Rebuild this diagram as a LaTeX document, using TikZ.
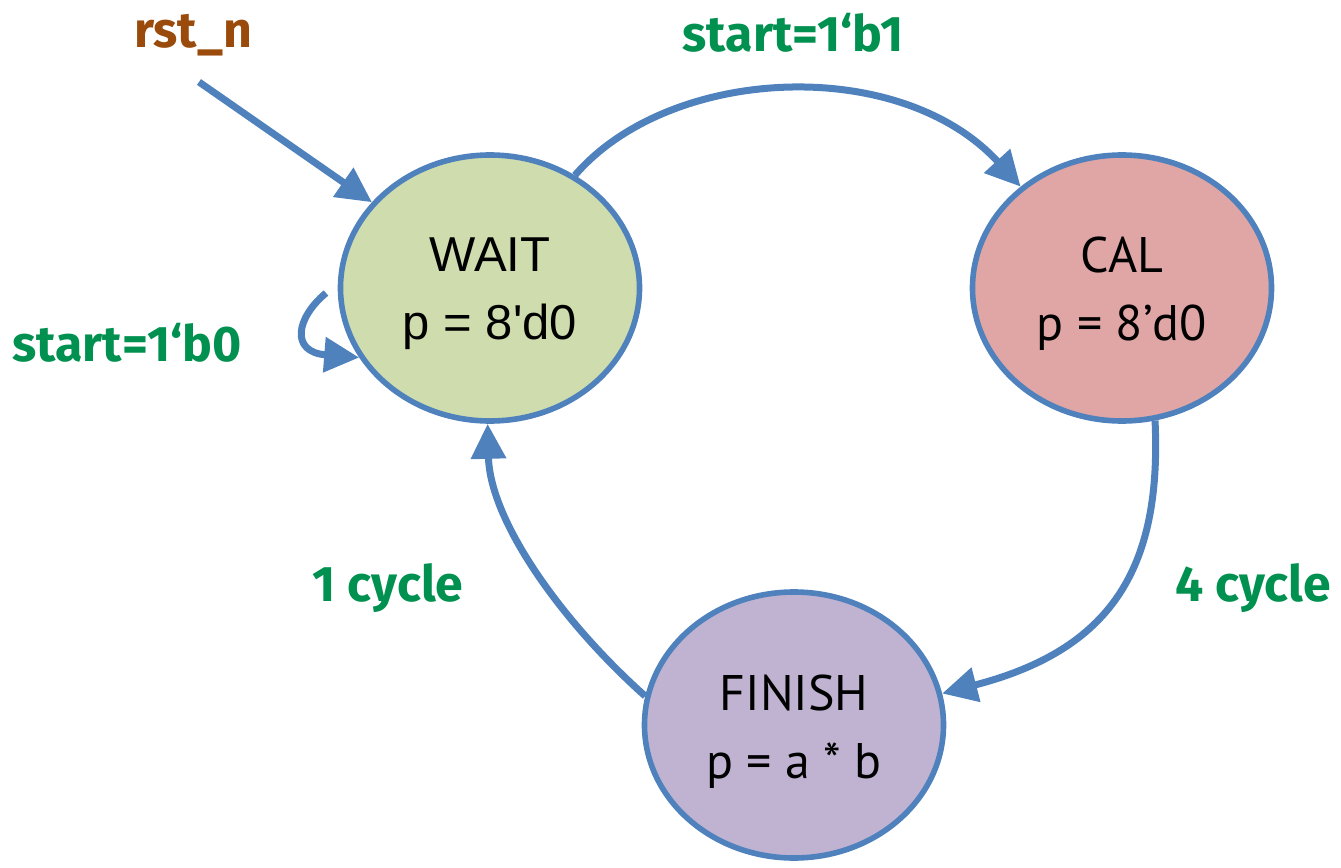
\documentclass[tikz,border=0pt]{standalone}
\usepackage{fontspec}
\setmainfont{Liberation Sans}
\newfontfamily\waitfont{Liberation Sans}[Ligatures=TeXOff]
\newfontfamily\statefont{PT Sans}
\newfontfamily\condfont{Fira Sans}
\usetikzlibrary{shapes.geometric,arrows.meta}
\definecolor{edgeblue}{HTML}{4F81BD}
\definecolor{waitfill}{HTML}{CFDDAE}
\definecolor{calfill}{HTML}{E0A6A6}
\definecolor{finishfill}{HTML}{BFB3D1}
\definecolor{condgreen}{HTML}{00904F}
\definecolor{rstbrown}{HTML}{9A4A0A}
\newcommand{\tallstrut}{\rule{0pt}{23pt}}
\begin{document}
\begin{tikzpicture}[x=0.5pt,y=-0.5pt,
  state/.style={ellipse, draw=edgeblue, line width=2.8pt,
    minimum width=149.5pt, minimum height=133pt, inner sep=0pt,
    align=center, text=black},
  trans/.style={draw=edgeblue, line width=3.5pt,
    -{Triangle[length=17.5pt,width=17pt]}},
  cond/.style={text=condgreen, font=\condfont\bfseries\fontsize{25}{30}\selectfont},
]
\useasboundingbox (0,0) rectangle (1341,868);

% states
\node[state, fill=waitfill, font=\waitfont\fontsize{24.5}{34}\selectfont]
  (wait) at (490,288) {\tallstrut WAIT\\p = 8'd0};
\node[state, fill=calfill, font=\statefont\fontsize{25}{34}\selectfont]
  (cal) at (1122,288) {\tallstrut CAL\\p = 8’d0};
\node[state, fill=finishfill, font=\statefont\fontsize{25}{34}\selectfont]
  (finish) at (794,725) {\rule{0pt}{24pt}FINISH\\p = a * b};

% reset entry and self loop start
\coordinate (rstsrc) at (199,82);
\coordinate (loopsrc) at (326,293);

% transitions
\draw[trans] (rstsrc) -- (wait.144);
\draw[trans] (loopsrc) .. controls (296,318) and (290,352) .. (wait.208);
\draw[trans] (wait.53) .. controls (670,65) and (900,55) .. (cal.135);
\draw[trans] (cal.284) .. controls (1162,570) and (1110,650) .. (finish.12);
\draw[trans] (finish.169) .. controls (560,620) and (490,520) .. (wait.269);

% labels
\node[text=rstbrown, font=\condfont\bfseries\fontsize{25}{30}\selectfont]
  (rstlabel) at (193,35) {rst\_n};
\node[cond] (c1) at (793,33) {start=1‘b1};
\node[cond] (c0) at (127,343) {start=1‘b0};
\node[cond] (cyc1) at (388,588) {1 cycle};
\node[cond] (cyc4) at (1253,588) {4 cycle};
\end{tikzpicture}
\end{document}
